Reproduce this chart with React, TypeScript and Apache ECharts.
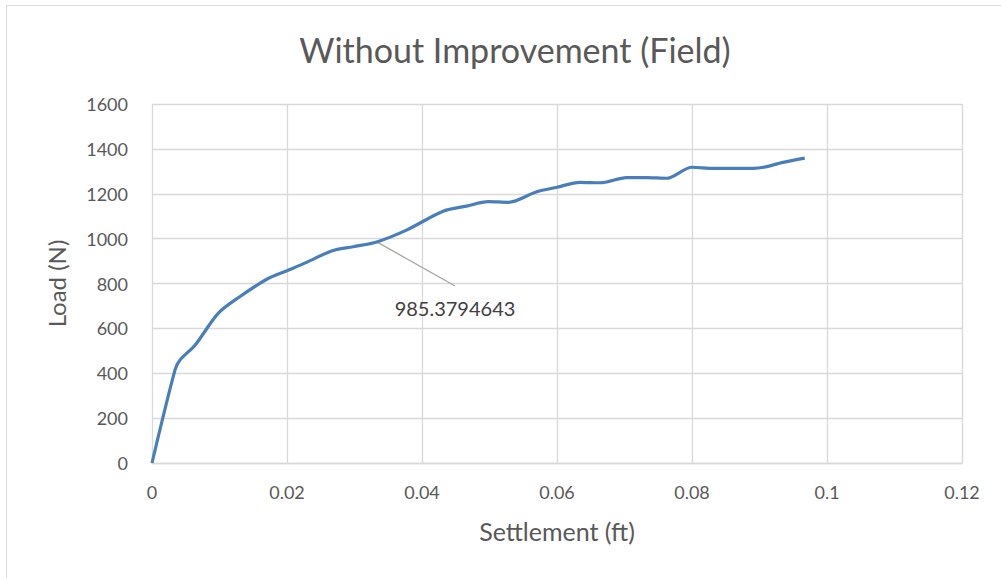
import React, { useEffect, useRef } from "react";
import * as echarts from "echarts";

const settlement = [0, 0.0034, 0.00415, 0.0064, 0.0098, 0.013, 0.017, 0.02, 0.0229, 0.0266, 0.0298, 0.0333, 0.0377, 0.0432, 0.0466, 0.0498, 0.0528, 0.057, 0.06, 0.0634, 0.0664, 0.0703, 0.0733, 0.0762, 0.08, 0.0832, 0.0891, 0.0906, 0.0935, 0.0967];
const load = [0, 414, 459, 526, 667, 741, 819, 857, 894, 945, 964, 985.3794643, 1038, 1123, 1145, 1165, 1162, 1209, 1229, 1251, 1249, 1272, 1272, 1269, 1318, 1313, 1313, 1318, 1340, 1359];
const labelIndex = 11;
// end of the data-label leader line, in data units
const leaderEnd = [0.0449, 789];
const title = "Without Improvement (Field)";
const xName = "Settlement (ft)";
const yName = "Load (N)";

export default function App() {
  const ref = useRef<HTMLDivElement>(null);
  useEffect(() => {
    const chart = echarts.init(ref.current!, null, { renderer: "svg" });
    const font = "Lato, 'Open Sans', sans-serif";
    const data = settlement.map((x, i) => {
      if (i === labelIndex) {
        return {
          value: [x, load[i]],
          label: {
            show: true,
            formatter: String(load[i]),
            fontSize: 20,
            color: "#404040",
            fontFamily: font,
          },
        };
      }
      return [x, load[i]];
    });
    chart.setOption({
      animation: false,
      backgroundColor: "#fff",
      title: {
        text: title,
        left: 510,
        top: 27,
        textAlign: "center",
        textStyle: { fontSize: 34, fontWeight: "normal", color: "#595959", fontFamily: font },
      },
      graphic: [
        {
          type: "rect",
          shape: { x: 6.5, y: 5.5, width: 1010, height: 600 },
          style: { fill: "none", stroke: "#d9d9d9", lineWidth: 1 },
          silent: true,
        },
      ],
      grid: { left: 152, right: 39, top: 104, bottom: 115, containLabel: false },
      xAxis: {
        type: "value",
        min: 0,
        max: 0.12,
        interval: 0.02,
        name: xName,
        nameLocation: "middle",
        nameGap: 55,
        nameTextStyle: { fontSize: 25, color: "#595959", fontFamily: font },
        axisLine: { show: true, lineStyle: { color: "#d9d9d9", width: 1.3 } },
        axisTick: { show: false },
        axisLabel: {
          fontSize: 18,
          color: "#595959",
          fontFamily: font,
          margin: 20,
          formatter: (v: number) => String(parseFloat(v.toFixed(2))),
        },
        splitLine: { show: true, lineStyle: { color: "#d9d9d9", width: 1.3 } },
      },
      yAxis: {
        type: "value",
        min: 0,
        max: 1600,
        interval: 200,
        name: yName,
        nameLocation: "middle",
        nameGap: 84,
        nameTextStyle: { fontSize: 24, color: "#595959", fontFamily: font },
        axisLine: { show: false },
        axisTick: { show: false },
        axisLabel: {
          fontSize: 18,
          color: "#595959",
          fontFamily: font,
          margin: 24,
          formatter: (v: number) => String(v),
        },
        splitLine: { show: true, lineStyle: { color: "#d9d9d9", width: 1.3 } },
      },
      series: [
        {
          type: "line",
          data,
          smooth: 0.3,
          showSymbol: true,
          symbol: "circle",
          symbolSize: 0,
          lineStyle: { color: "#4a7ebb", width: 3.2 },
          itemStyle: { color: "#4a7ebb" },
          z: 3,
          labelLayout: (params: any) => {
            if (params.dataIndex === labelIndex) {
              return { x: 455, y: 308, align: "center", verticalAlign: "middle" };
            }
            return {};
          },
          markLine: {
            silent: true,
            symbol: ["none", "none"],
            label: { show: false },
            lineStyle: { color: "#a6a6a6", width: 1.3, type: "solid" },
            z: 2,
            data: [
              [
                { coord: [settlement[labelIndex], load[labelIndex]] },
                { coord: leaderEnd },
              ],
            ],
          },
        },
      ],
    });
    return () => chart.dispose();
  }, []);
  return (
    <div
      ref={ref}
      style={{ position: "absolute", left: 0, top: 0, width: 1001, height: 578 }}
    />
  );
}
